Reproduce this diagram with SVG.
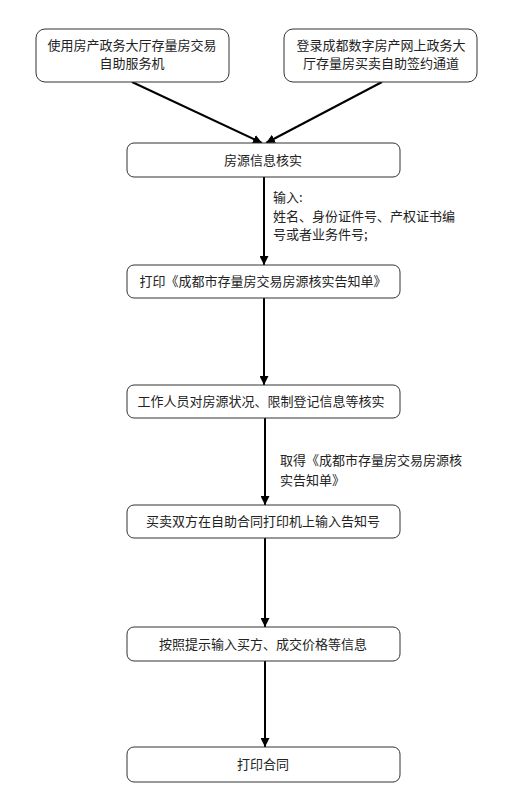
<svg xmlns="http://www.w3.org/2000/svg" width="508" height="800" viewBox="0 0 508 800">
<defs>
<marker id="ah" viewBox="0 0 10 10" refX="10" refY="5" markerWidth="4.5" markerHeight="4.5" orient="auto" markerUnits="strokeWidth">
<path d="M0,0 L10,5 L0,10 Z" fill="#000"/>
</marker>
<style>
.box{fill:#fff;stroke:#333;stroke-width:1}
.t{font-family:"Noto Sans CJK SC","Noto Sans",sans-serif;font-size:13px;fill:#222}
.c{text-anchor:middle}
.e{stroke:#000;stroke-width:2;fill:none;marker-end:url(#ah)}
</style>
</defs>
<rect width="508" height="800" fill="#fff"/>
<g id="connectors">
<line class="e" x1="132" y1="82" x2="262" y2="143"/>
<line class="e" x1="382" y1="82" x2="266" y2="143"/>
<line class="e" x1="264" y1="177" x2="264" y2="265"/>
<line class="e" x1="264" y1="298" x2="264" y2="385"/>
<line class="e" x1="265" y1="418" x2="265" y2="505"/>
<line class="e" x1="265" y1="538" x2="265" y2="627"/>
<line class="e" x1="265" y1="661" x2="265" y2="747"/>
<text class="t" x="273" y="202">输入:</text>
<text class="t" x="273" y="221">姓名、身份证件号、产权证书编</text>
<text class="t" x="273" y="239">号或者业务件号;</text>
<text class="t" x="280" y="465">取得《成都市存量房交易房源核</text>
<text class="t" x="280" y="485">实告知单》</text>
</g>
<g id="n1">
<rect class="box" x="36" y="29" width="193" height="53" rx="9"/>
<text class="t c" x="132" y="50">使用房产政务大厅存量房交易</text>
<text class="t c" x="132" y="68">自助服务机</text>
</g>
<g id="n2">
<rect class="box" x="284" y="29" width="193" height="53" rx="9"/>
<text class="t c" x="381" y="50">登录成都数字房产网上政务大</text>
<text class="t c" x="381" y="68">厅存量房买卖自助签约通道</text>
</g>
<g id="n3">
<rect class="box" x="127" y="143" width="273" height="34" rx="7"/>
<text class="t c" x="263" y="165">房源信息核实</text>
</g>
<g id="n4">
<rect class="box" x="127" y="265" width="273" height="33" rx="7"/>
<text class="t c" x="263" y="286">打印《成都市存量房交易房源核实告知单》</text>
</g>
<g id="n5">
<rect class="box" x="127" y="385" width="273" height="33" rx="7"/>
<text class="t c" x="261" y="406">工作人员对房源状况、限制登记信息等核实</text>
</g>
<g id="n6">
<rect class="box" x="127" y="505" width="273" height="33" rx="7"/>
<text class="t c" x="263" y="526">买卖双方在自助合同打印机上输入告知号</text>
</g>
<g id="n7">
<rect class="box" x="127" y="627" width="273" height="34" rx="7"/>
<text class="t c" x="263" y="649">按照提示输入买方、成交价格等信息</text>
</g>
<g id="n8">
<rect class="box" x="127" y="747" width="273" height="35" rx="7"/>
<text class="t c" x="263" y="769">打印合同</text>
</g>
</svg>
